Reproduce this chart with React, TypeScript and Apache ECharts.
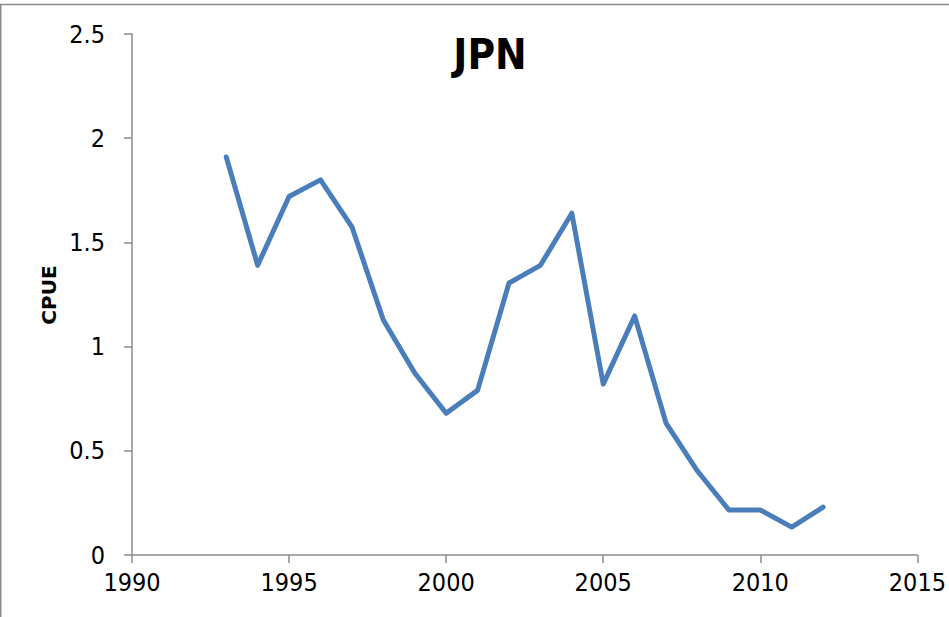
import React, { useEffect, useRef } from "react";
import * as echarts from "echarts";

const years = [1993, 1994, 1995, 1996, 1997, 1998, 1999, 2000, 2001, 2002, 2003, 2004, 2005, 2006, 2007, 2008, 2009, 2010, 2011, 2012];
const cpue = [1.91, 1.39, 1.72, 1.8, 1.575, 1.128, 0.873, 0.68, 0.79, 1.305, 1.39, 1.64, 0.82, 1.147, 0.633, 0.403, 0.216, 0.216, 0.134, 0.23];
const titleText = "JPN";
const yAxisName = "CPUE";

const tickFont = "'Liberation Sans Narrow', 'DejaVu Sans Condensed', 'Liberation Sans', sans-serif";

export default function App() {
  const ref = useRef<HTMLDivElement>(null);
  useEffect(() => {
    document.body.style.margin = "0";
    const chart = echarts.init(ref.current!, null, { renderer: "svg" });
    chart.setOption({
      animation: false,
      backgroundColor: "#ffffff",
      title: {
        text: titleText,
        left: 485,
        top: 28,
        textAlign: "center",
        textStyle: { fontFamily: tickFont, fontSize: 42, fontWeight: "bold", color: "#000" },
      },
      graphic: [
        { type: "line", shape: { x1: 0, y1: 4.5, x2: 949, y2: 4.5 }, style: { stroke: "#8c8c8c", lineWidth: 1.5 } },
        { type: "line", shape: { x1: 0.75, y1: 4, x2: 0.75, y2: 617 }, style: { stroke: "#8c8c8c", lineWidth: 1.5 } },
        {
          type: "text",
          x: 49,
          y: 295,
          rotation: Math.PI / 2,
          style: {
            text: yAxisName,
            fontFamily: "'DejaVu Sans', sans-serif",
            fontWeight: "bold",
            fontSize: 20,
            fill: "#000",
            textAlign: "center",
            textVerticalAlign: "middle",
          },
        },
      ],
      grid: { left: 132, right: 31, top: 34, bottom: 62 },
      xAxis: {
        type: "value",
        min: 1990,
        max: 2015,
        interval: 5,
        splitLine: { show: false },
        axisLine: { show: true, lineStyle: { color: "#8c8c8c", width: 1.5 } },
        axisTick: { show: true, length: 8, lineStyle: { color: "#8c8c8c", width: 1.5 } },
        axisLabel: { margin: 15, fontFamily: tickFont, fontSize: 25, color: "#000", formatter: (v: number) => String(v) },
      },
      yAxis: {
        type: "value",
        min: 0,
        max: 2.5,
        interval: 0.5,
        splitLine: { show: false },
        axisLine: { show: true, lineStyle: { color: "#8c8c8c", width: 1.5 } },
        axisTick: { show: true, length: 8, lineStyle: { color: "#8c8c8c", width: 1.5 } },
        axisLabel: { margin: 27, fontFamily: tickFont, fontSize: 25, color: "#000" },
      },
      series: [
        {
          type: "line",
          data: years.map((y, i) => [y, cpue[i]]),
          showSymbol: false,
          symbol: "none",
          lineStyle: { color: "#4a7ebb", width: 5, cap: "round", join: "round" },
        },
      ],
    });
    return () => chart.dispose();
  }, []);
  return <div ref={ref} style={{ width: 949, height: 617 }} />;
}
